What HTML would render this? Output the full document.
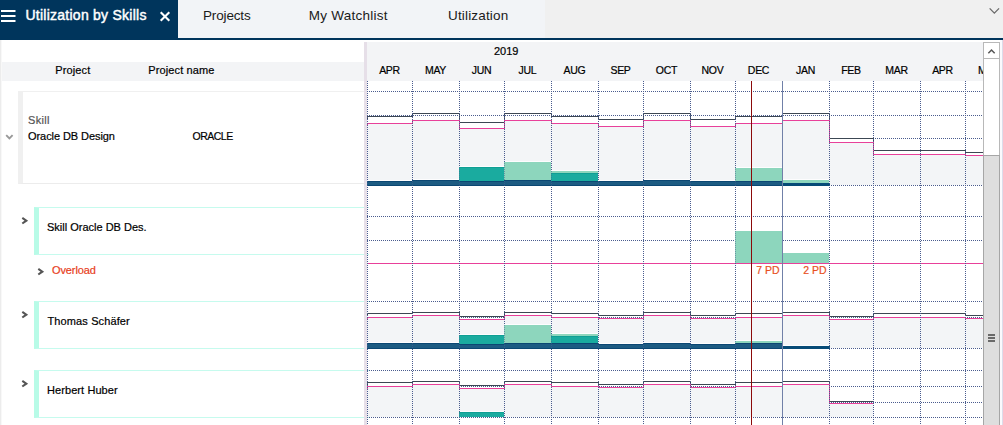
<!DOCTYPE html>
<html><head><meta charset="utf-8"><title>Utilization by Skills</title>
<style>
html,body{margin:0;padding:0}
body{width:1003px;height:425px;overflow:hidden;background:#fff;position:relative;font-family:"Liberation Sans",sans-serif;color:#111;}
.abs{position:absolute}
#tabbar{position:absolute;left:0;top:0;width:1003px;height:38px;background:#f0f0f0}
#tabbg{position:absolute;left:0;top:0;width:545px;height:38px;background:#f2f4f7}
#tabline{position:absolute;left:0;top:38px;width:1003px;height:2px;background:#00355c}
#active{position:absolute;left:0;top:0;width:178px;height:38px;background:#00355c}
.tab{position:absolute;top:0;height:38px;line-height:38px;font-size:14px;color:#1a1a1a;white-space:nowrap}
#atitle{letter-spacing:0.25px;-webkit-text-stroke:0.45px #fff;position:absolute;left:25.5px;top:0;height:38px;line-height:30px;font-size:14px;font-weight:normal;color:#fff;white-space:nowrap}
.t11{position:absolute;font-size:11px;line-height:13px;white-space:nowrap;color:#000;-webkit-text-stroke:0.2px}
.mon{position:absolute;top:64px;height:13px;line-height:13px;font-size:10.5px;letter-spacing:-0.28px;text-align:center;color:#000;white-space:nowrap;-webkit-text-stroke:0.2px}
.blk{position:absolute;left:34px;width:330px;height:46px;border-top:1px solid #c6fbee;border-bottom:1px solid #c6fbee;border-left:5px solid #b8fbe7;box-sizing:content-box}
</style></head><body>
<div id="tabbar"><div id="tabbg"></div>
<div id="active"></div>
<svg class="abs" style="left:0;top:0" width="20" height="38"><rect x="1" y="10" width="14.5" height="2" fill="#fff"/><rect x="1" y="15" width="14.5" height="2" fill="#fff"/><rect x="1" y="20" width="14.5" height="2" fill="#fff"/></svg>
<div id="atitle">Utilization by Skills</div>
<svg class="abs" style="left:158px;top:8px" width="16" height="16"><path d="M2.7 4.3L11.3 12.7M11.3 4.3L2.7 12.7" stroke="#fff" stroke-width="2.1" fill="none"/></svg>
<div class="tab" style="left:203px;line-height:31px;letter-spacing:-0.15px;font-size:13.5px">Projects</div>
<div class="tab" style="left:308.8px;line-height:31px;letter-spacing:0.25px;font-size:13.5px">My Watchlist</div>
<div class="tab" style="left:448px;line-height:31px;letter-spacing:0.17px;font-size:13.5px">Utilization</div>
<svg class="abs" style="left:986px;top:4px" width="16" height="16"><path d="M3.65 4.4L8.35 9.1L13.05 4.4" stroke="#6a6a6a" stroke-width="1.3" fill="none"/></svg>
</div>
<div id="tabline"></div>

<!-- left panel -->
<div class="abs" style="left:0;top:40px;width:1px;height:385px;background:#ececec"></div><div class="abs" style="left:1px;top:40px;width:1px;height:385px;background:#f8f8f8"></div>
<div class="abs" style="left:2px;top:62px;width:362px;height:19px;background:#f3f4f6"></div>
<div class="t11" style="left:55.3px;top:64px;letter-spacing:0.12px">Project</div>
<div class="t11" style="left:148.3px;top:64px;letter-spacing:0.12px">Project name</div>

<div class="abs" style="left:18px;top:91px;width:346px;height:92px;border-left:5px solid #f0f0f0;border-top:1px solid #f0f0f0;border-bottom:1px solid #ececec;box-sizing:border-box;height:93px"></div>
<div class="t11" style="left:28px;top:114px;color:#555;letter-spacing:0.3px">Skill</div>
<div class="t11" style="left:28px;top:130px;letter-spacing:-0.07px">Oracle DB Design</div>
<div class="t11" style="left:192.5px;top:130px;font-size:10.5px;letter-spacing:-0.5px">ORACLE</div>
<svg class="abs" style="left:4px;top:132px" width="12" height="12"><path d="M2.2 3.1L5.4 6.3L8.6 3.1" stroke="#999" stroke-width="1.9" fill="none"/></svg>

<div class="blk" style="top:207px"></div>
<div class="t11" style="left:47px;top:221px">Skill Oracle DB Des.</div>
<svg class="abs chev" style="left:20px;top:215px" width="10" height="12"><path d="M2.3 2.9L6.3 5.7L2.3 8.5" stroke="#555" stroke-width="2.1" fill="none"/></svg>

<svg class="abs chev" style="left:36.1px;top:266px" width="10" height="12"><path d="M2.3 2.9L6.3 5.7L2.3 8.5" stroke="#555" stroke-width="2.1" fill="none"/></svg>
<div class="t11" style="left:52px;top:264px;color:#e8401c;letter-spacing:-0.1px">Overload</div>

<div class="blk" style="top:301px"></div>
<div class="t11" style="left:47.5px;top:315px;letter-spacing:0.12px">Thomas Schäfer</div>
<svg class="abs chev" style="left:20px;top:309px" width="10" height="12"><path d="M2.3 2.9L6.3 5.7L2.3 8.5" stroke="#555" stroke-width="2.1" fill="none"/></svg>

<div class="blk" style="top:370px"></div>
<div class="t11" style="left:47px;top:384px;letter-spacing:0.08px">Herbert Huber</div>
<svg class="abs chev" style="left:20px;top:378px" width="10" height="12"><path d="M2.3 2.9L6.3 5.7L2.3 8.5" stroke="#555" stroke-width="2.1" fill="none"/></svg>

<!-- divider -->
<div class="abs" style="left:364px;top:42px;width:3px;height:383px;background:#e6dfe8"></div>

<!-- chart header -->
<div class="abs" style="left:367px;top:42px;width:616px;height:39px;background:#f3f4f6;overflow:hidden">
<div style="position:absolute;left:-367px;top:-42px;width:1100px;height:100px">
<div class="t11" style="left:494px;top:45px">2019</div>
<div class="mon" style="left:367px;width:45px">APR</div><div class="mon" style="left:412px;width:47px">MAY</div><div class="mon" style="left:459px;width:45px">JUN</div><div class="mon" style="left:504px;width:47px">JUL</div><div class="mon" style="left:551px;width:47px">AUG</div><div class="mon" style="left:598px;width:45px">SEP</div><div class="mon" style="left:643px;width:47px">OCT</div><div class="mon" style="left:690px;width:45px">NOV</div><div class="mon" style="left:735px;width:47px">DEC</div><div class="mon" style="left:782px;width:47px">JAN</div><div class="mon" style="left:829px;width:44px">FEB</div><div class="mon" style="left:873px;width:47px">MAR</div><div class="mon" style="left:920px;width:45px">APR</div><div class="mon" style="left:965px;width:47px">MAY</div>
</div></div>

<svg class="abs" style="left:0;top:0" width="1003" height="425" shape-rendering="crispEdges">
<line x1="367" y1="91.5" x2="982" y2="91.5" stroke="#4a5c8e" stroke-width="1" stroke-dasharray="1 1"/>
<line x1="367" y1="115.5" x2="982" y2="115.5" stroke="#4a5c8e" stroke-width="1" stroke-dasharray="1 1"/>
<line x1="367" y1="138.5" x2="982" y2="138.5" stroke="#4a5c8e" stroke-width="1" stroke-dasharray="1 1"/>
<line x1="367" y1="162.5" x2="982" y2="162.5" stroke="#4a5c8e" stroke-width="1" stroke-dasharray="1 1"/>
<line x1="367" y1="185.5" x2="982" y2="185.5" stroke="#4a5c8e" stroke-width="1" stroke-dasharray="1 1"/>
<line x1="367" y1="216.5" x2="982" y2="216.5" stroke="#4a5c8e" stroke-width="1" stroke-dasharray="1 1"/>
<line x1="367" y1="240.5" x2="982" y2="240.5" stroke="#4a5c8e" stroke-width="1" stroke-dasharray="1 1"/>
<line x1="367" y1="301.5" x2="982" y2="301.5" stroke="#4a5c8e" stroke-width="1" stroke-dasharray="1 1"/>
<line x1="367" y1="317.5" x2="982" y2="317.5" stroke="#4a5c8e" stroke-width="1" stroke-dasharray="1 1"/>
<line x1="367" y1="333.5" x2="982" y2="333.5" stroke="#4a5c8e" stroke-width="1" stroke-dasharray="1 1"/>
<line x1="367" y1="348.5" x2="982" y2="348.5" stroke="#4a5c8e" stroke-width="1" stroke-dasharray="1 1"/>
<line x1="367" y1="370.5" x2="982" y2="370.5" stroke="#4a5c8e" stroke-width="1" stroke-dasharray="1 1"/>
<line x1="367" y1="386.5" x2="982" y2="386.5" stroke="#4a5c8e" stroke-width="1" stroke-dasharray="1 1"/>
<line x1="367" y1="402.5" x2="982" y2="402.5" stroke="#4a5c8e" stroke-width="1" stroke-dasharray="1 1"/>
<line x1="367" y1="417.5" x2="982" y2="417.5" stroke="#4a5c8e" stroke-width="1" stroke-dasharray="1 1"/>
<rect x="367" y="124" width="45" height="61" fill="#f3f5f7" />
<rect x="412" y="121" width="47" height="64" fill="#f3f5f7" />
<rect x="459" y="129" width="45" height="56" fill="#f3f5f7" />
<rect x="504" y="121" width="47" height="64" fill="#f3f5f7" />
<rect x="551" y="124" width="47" height="61" fill="#f3f5f7" />
<rect x="598" y="127" width="45" height="58" fill="#f3f5f7" />
<rect x="643" y="121" width="47" height="64" fill="#f3f5f7" />
<rect x="690" y="127" width="45" height="58" fill="#f3f5f7" />
<rect x="735" y="124" width="47" height="61" fill="#f3f5f7" />
<rect x="782" y="121" width="47" height="64" fill="#f3f5f7" />
<rect x="829" y="143" width="44" height="42" fill="#f3f5f7" />
<rect x="873" y="155" width="47" height="30" fill="#f3f5f7" />
<rect x="920" y="155" width="45" height="30" fill="#f3f5f7" />
<rect x="965" y="156" width="18" height="29" fill="#f3f5f7" />
<rect x="367" y="318" width="45" height="30" fill="#f3f5f7" />
<rect x="412" y="316" width="47" height="32" fill="#f3f5f7" />
<rect x="459" y="320" width="45" height="28" fill="#f3f5f7" />
<rect x="504" y="316" width="47" height="32" fill="#f3f5f7" />
<rect x="551" y="318" width="47" height="30" fill="#f3f5f7" />
<rect x="598" y="319" width="45" height="29" fill="#f3f5f7" />
<rect x="643" y="316" width="47" height="32" fill="#f3f5f7" />
<rect x="690" y="319" width="45" height="29" fill="#f3f5f7" />
<rect x="735" y="318" width="47" height="30" fill="#f3f5f7" />
<rect x="782" y="316" width="47" height="32" fill="#f3f5f7" />
<rect x="829" y="320" width="44" height="28" fill="#f3f5f7" />
<rect x="873" y="318" width="47" height="30" fill="#f3f5f7" />
<rect x="920" y="318" width="45" height="30" fill="#f3f5f7" />
<rect x="965" y="319" width="18" height="29" fill="#f3f5f7" />
<rect x="367" y="387" width="45" height="30" fill="#f3f5f7" />
<rect x="412" y="385" width="47" height="32" fill="#f3f5f7" />
<rect x="459" y="389" width="45" height="28" fill="#f3f5f7" />
<rect x="504" y="385" width="47" height="32" fill="#f3f5f7" />
<rect x="551" y="387" width="47" height="30" fill="#f3f5f7" />
<rect x="598" y="388" width="45" height="29" fill="#f3f5f7" />
<rect x="643" y="385" width="47" height="32" fill="#f3f5f7" />
<rect x="690" y="388" width="45" height="29" fill="#f3f5f7" />
<rect x="735" y="387" width="47" height="30" fill="#f3f5f7" />
<rect x="782" y="385" width="47" height="32" fill="#f3f5f7" />
<rect x="829" y="404" width="44" height="13" fill="#f3f5f7" />
<rect x="367" y="181" width="45" height="1" fill="#0b4873" />
<rect x="367" y="182" width="45" height="3" fill="#1c5b82" />
<rect x="367" y="185" width="45" height="1" fill="#0b4873" />
<rect x="367" y="180" width="45" height="1" fill="#fdfdfe" />
<rect x="412" y="180" width="47" height="1" fill="#0b4873" />
<rect x="412" y="181" width="47" height="4" fill="#1c5b82" />
<rect x="412" y="185" width="47" height="1" fill="#0b4873" />
<rect x="412" y="179" width="47" height="1" fill="#fdfdfe" />
<rect x="459" y="181" width="45" height="1" fill="#0b4873" />
<rect x="459" y="182" width="45" height="3" fill="#1c5b82" />
<rect x="459" y="185" width="45" height="1" fill="#0b4873" />
<rect x="459" y="167" width="45" height="1" fill="#0f9f94" />
<rect x="459" y="168" width="45" height="13" fill="#1aab9f" />
<rect x="459" y="166" width="45" height="1" fill="#fdfdfe" />
<rect x="504" y="180" width="47" height="1" fill="#0b4873" />
<rect x="504" y="181" width="47" height="4" fill="#1c5b82" />
<rect x="504" y="185" width="47" height="1" fill="#0b4873" />
<rect x="504" y="162" width="47" height="18" fill="#8dd6bd" />
<rect x="504" y="161" width="47" height="1" fill="#fdfdfe" />
<rect x="551" y="181" width="47" height="1" fill="#0b4873" />
<rect x="551" y="182" width="47" height="3" fill="#1c5b82" />
<rect x="551" y="185" width="47" height="1" fill="#0b4873" />
<rect x="551" y="173" width="47" height="1" fill="#0f9f94" />
<rect x="551" y="174" width="47" height="7" fill="#1aab9f" />
<rect x="551" y="171" width="47" height="2" fill="#8dd6bd" />
<rect x="551" y="170" width="47" height="1" fill="#fdfdfe" />
<rect x="598" y="181" width="45" height="1" fill="#0b4873" />
<rect x="598" y="182" width="45" height="3" fill="#1c5b82" />
<rect x="598" y="185" width="45" height="1" fill="#0b4873" />
<rect x="598" y="180" width="45" height="1" fill="#fdfdfe" />
<rect x="643" y="180" width="47" height="1" fill="#0b4873" />
<rect x="643" y="181" width="47" height="4" fill="#1c5b82" />
<rect x="643" y="185" width="47" height="1" fill="#0b4873" />
<rect x="643" y="179" width="47" height="1" fill="#fdfdfe" />
<rect x="690" y="181" width="45" height="1" fill="#0b4873" />
<rect x="690" y="182" width="45" height="3" fill="#1c5b82" />
<rect x="690" y="185" width="45" height="1" fill="#0b4873" />
<rect x="690" y="180" width="45" height="1" fill="#fdfdfe" />
<rect x="735" y="181" width="47" height="1" fill="#0b4873" />
<rect x="735" y="182" width="47" height="3" fill="#1c5b82" />
<rect x="735" y="185" width="47" height="1" fill="#0b4873" />
<rect x="735" y="168" width="47" height="13" fill="#8dd6bd" />
<rect x="735" y="167" width="47" height="1" fill="#fdfdfe" />
<rect x="782" y="179" width="47" height="1" fill="#fdfdfe" />
<rect x="782" y="180" width="47" height="3" fill="#8dd6bd" />
<rect x="735" y="231" width="47" height="32" fill="#8dd6bd" />
<rect x="782" y="253" width="47" height="10" fill="#8dd6bd" />
<rect x="367" y="343" width="45" height="1" fill="#0b4873" />
<rect x="367" y="344" width="45" height="4" fill="#1c5b82" />
<rect x="367" y="348" width="45" height="1" fill="#0b4873" />
<rect x="367" y="342" width="45" height="1" fill="#fdfdfe" />
<rect x="412" y="343" width="47" height="1" fill="#0b4873" />
<rect x="412" y="344" width="47" height="4" fill="#1c5b82" />
<rect x="412" y="348" width="47" height="1" fill="#0b4873" />
<rect x="412" y="342" width="47" height="1" fill="#fdfdfe" />
<rect x="459" y="344" width="45" height="1" fill="#0b4873" />
<rect x="459" y="345" width="45" height="3" fill="#1c5b82" />
<rect x="459" y="348" width="45" height="1" fill="#0b4873" />
<rect x="459" y="335" width="45" height="1" fill="#0f9f94" />
<rect x="459" y="336" width="45" height="8" fill="#1aab9f" />
<rect x="459" y="334" width="45" height="1" fill="#fdfdfe" />
<rect x="504" y="343" width="47" height="1" fill="#0b4873" />
<rect x="504" y="344" width="47" height="4" fill="#1c5b82" />
<rect x="504" y="348" width="47" height="1" fill="#0b4873" />
<rect x="504" y="325" width="47" height="18" fill="#8dd6bd" />
<rect x="504" y="324" width="47" height="1" fill="#fdfdfe" />
<rect x="551" y="343" width="47" height="1" fill="#0b4873" />
<rect x="551" y="344" width="47" height="4" fill="#1c5b82" />
<rect x="551" y="348" width="47" height="1" fill="#0b4873" />
<rect x="551" y="336" width="47" height="1" fill="#0f9f94" />
<rect x="551" y="337" width="47" height="6" fill="#1aab9f" />
<rect x="551" y="334" width="47" height="2" fill="#8dd6bd" />
<rect x="551" y="333" width="47" height="1" fill="#fdfdfe" />
<rect x="598" y="344" width="45" height="1" fill="#0b4873" />
<rect x="598" y="345" width="45" height="3" fill="#1c5b82" />
<rect x="598" y="348" width="45" height="1" fill="#0b4873" />
<rect x="598" y="343" width="45" height="1" fill="#fdfdfe" />
<rect x="643" y="343" width="47" height="1" fill="#0b4873" />
<rect x="643" y="344" width="47" height="4" fill="#1c5b82" />
<rect x="643" y="348" width="47" height="1" fill="#0b4873" />
<rect x="643" y="342" width="47" height="1" fill="#fdfdfe" />
<rect x="690" y="344" width="45" height="1" fill="#0b4873" />
<rect x="690" y="345" width="45" height="3" fill="#1c5b82" />
<rect x="690" y="348" width="45" height="1" fill="#0b4873" />
<rect x="690" y="343" width="45" height="1" fill="#fdfdfe" />
<rect x="735" y="343" width="47" height="1" fill="#0b4873" />
<rect x="735" y="344" width="47" height="4" fill="#1c5b82" />
<rect x="735" y="348" width="47" height="1" fill="#0b4873" />
<rect x="735" y="341" width="47" height="2" fill="#8dd6bd" />
<rect x="735" y="340" width="47" height="1" fill="#fdfdfe" />
<rect x="782" y="345" width="47" height="1" fill="#fdfdfe" />
<rect x="459" y="412" width="45" height="1" fill="#0f9f94" />
<rect x="459" y="413" width="45" height="4" fill="#1aab9f" />
<rect x="459" y="411" width="45" height="1" fill="#fdfdfe" />
<path d="M782 183H829a1.5 1.5 0 0 1 0 3H782Z" fill="#064b77"/>
<path d="M782 346H829a1.5 1.5 0 0 1 0 3H782Z" fill="#064b77"/>
<line x1="367" y1="263.5" x2="983" y2="263.5" stroke="#e8409a" stroke-width="1"/>
<path d="M367.5 119.0V116.5H412.5V113.5H459.5V122.5H504.5V113.5H551.5V116.5H598.5V119.5H643.5V113.5H690.5V119.5H735.5V116.5H782.5V113.5H829.5V138.5H873.5V150.5H920.5V150.5H965.5V152.5H983" fill="none" stroke="#3c4753" stroke-width="1"/>
<path d="M367.5 126.0V123.5H412.5V120.5H459.5V128.5H504.5V120.5H551.5V123.5H598.5V126.5H643.5V120.5H690.5V126.5H735.5V123.5H782.5V120.5H829.5V142.5H873.5V154.5H920.5V154.5H965.5V155.5H983" fill="none" stroke="#e8409a" stroke-width="1"/>
<path d="M367.5 316.0V313.5H412.5V312.5H459.5V316.5H504.5V312.5H551.5V313.5H598.5V315.5H643.5V312.5H690.5V315.5H735.5V313.5H782.5V312.5H829.5V316.5H873.5V313.5H920.5V313.5H965.5V315.5H983" fill="none" stroke="#3c4753" stroke-width="1"/>
<path d="M367.5 320.0V317.5H412.5V315.5H459.5V319.5H504.5V315.5H551.5V317.5H598.5V318.5H643.5V315.5H690.5V318.5H735.5V317.5H782.5V315.5H829.5V319.5H873.5V317.5H920.5V317.5H965.5V318.5H983" fill="none" stroke="#e8409a" stroke-width="1"/>
<path d="M367.5 385.0V382.5H412.5V381.5H459.5V385.5H504.5V381.5H551.5V382.5H598.5V384.5H643.5V381.5H690.5V384.5H735.5V382.5H782.5V381.5H829.5V401.5H873.5" fill="none" stroke="#3c4753" stroke-width="1"/>
<path d="M367.5 389.0V386.5H412.5V384.5H459.5V388.5H504.5V384.5H551.5V386.5H598.5V387.5H643.5V384.5H690.5V387.5H735.5V386.5H782.5V384.5H829.5V403.5H873.5" fill="none" stroke="#e8409a" stroke-width="1"/>
<line x1="367.5" y1="81" x2="367.5" y2="425" stroke="#4a5c8e" stroke-width="1" stroke-dasharray="1 1"/>
<line x1="412.5" y1="81" x2="412.5" y2="425" stroke="#4a5c8e" stroke-width="1" stroke-dasharray="1 1"/>
<line x1="459.5" y1="81" x2="459.5" y2="425" stroke="#4a5c8e" stroke-width="1" stroke-dasharray="1 1"/>
<line x1="504.5" y1="81" x2="504.5" y2="425" stroke="#4a5c8e" stroke-width="1" stroke-dasharray="1 1"/>
<line x1="551.5" y1="81" x2="551.5" y2="425" stroke="#4a5c8e" stroke-width="1" stroke-dasharray="1 1"/>
<line x1="598.5" y1="81" x2="598.5" y2="425" stroke="#4a5c8e" stroke-width="1" stroke-dasharray="1 1"/>
<line x1="643.5" y1="81" x2="643.5" y2="425" stroke="#4a5c8e" stroke-width="1" stroke-dasharray="1 1"/>
<line x1="690.5" y1="81" x2="690.5" y2="425" stroke="#4a5c8e" stroke-width="1" stroke-dasharray="1 1"/>
<line x1="735.5" y1="81" x2="735.5" y2="425" stroke="#4a5c8e" stroke-width="1" stroke-dasharray="1 1"/>
<line x1="829.5" y1="81" x2="829.5" y2="425" stroke="#4a5c8e" stroke-width="1" stroke-dasharray="1 1"/>
<line x1="873.5" y1="81" x2="873.5" y2="425" stroke="#4a5c8e" stroke-width="1" stroke-dasharray="1 1"/>
<line x1="920.5" y1="81" x2="920.5" y2="425" stroke="#4a5c8e" stroke-width="1" stroke-dasharray="1 1"/>
<line x1="965.5" y1="81" x2="965.5" y2="425" stroke="#4a5c8e" stroke-width="1" stroke-dasharray="1 1"/>
<rect x="367" y="181" width="45" height="1" fill="#0b4873" fill-opacity="0.45"/>
<rect x="367" y="182" width="45" height="3" fill="#1c5b82" fill-opacity="0.45"/>
<rect x="367" y="185" width="45" height="1" fill="#0b4873" fill-opacity="0.45"/>
<rect x="412" y="180" width="47" height="1" fill="#0b4873" fill-opacity="0.45"/>
<rect x="412" y="181" width="47" height="4" fill="#1c5b82" fill-opacity="0.45"/>
<rect x="412" y="185" width="47" height="1" fill="#0b4873" fill-opacity="0.45"/>
<rect x="459" y="181" width="45" height="1" fill="#0b4873" fill-opacity="0.45"/>
<rect x="459" y="182" width="45" height="3" fill="#1c5b82" fill-opacity="0.45"/>
<rect x="459" y="185" width="45" height="1" fill="#0b4873" fill-opacity="0.45"/>
<rect x="459" y="167" width="45" height="1" fill="#0f9f94" fill-opacity="0.45"/>
<rect x="459" y="168" width="45" height="13" fill="#1aab9f" fill-opacity="0.45"/>
<rect x="504" y="180" width="47" height="1" fill="#0b4873" fill-opacity="0.45"/>
<rect x="504" y="181" width="47" height="4" fill="#1c5b82" fill-opacity="0.45"/>
<rect x="504" y="185" width="47" height="1" fill="#0b4873" fill-opacity="0.45"/>
<rect x="504" y="162" width="47" height="18" fill="#8dd6bd" fill-opacity="0.45"/>
<rect x="551" y="181" width="47" height="1" fill="#0b4873" fill-opacity="0.45"/>
<rect x="551" y="182" width="47" height="3" fill="#1c5b82" fill-opacity="0.45"/>
<rect x="551" y="185" width="47" height="1" fill="#0b4873" fill-opacity="0.45"/>
<rect x="551" y="173" width="47" height="1" fill="#0f9f94" fill-opacity="0.45"/>
<rect x="551" y="174" width="47" height="7" fill="#1aab9f" fill-opacity="0.45"/>
<rect x="551" y="171" width="47" height="2" fill="#8dd6bd" fill-opacity="0.45"/>
<rect x="598" y="181" width="45" height="1" fill="#0b4873" fill-opacity="0.45"/>
<rect x="598" y="182" width="45" height="3" fill="#1c5b82" fill-opacity="0.45"/>
<rect x="598" y="185" width="45" height="1" fill="#0b4873" fill-opacity="0.45"/>
<rect x="643" y="180" width="47" height="1" fill="#0b4873" fill-opacity="0.45"/>
<rect x="643" y="181" width="47" height="4" fill="#1c5b82" fill-opacity="0.45"/>
<rect x="643" y="185" width="47" height="1" fill="#0b4873" fill-opacity="0.45"/>
<rect x="690" y="181" width="45" height="1" fill="#0b4873" fill-opacity="0.45"/>
<rect x="690" y="182" width="45" height="3" fill="#1c5b82" fill-opacity="0.45"/>
<rect x="690" y="185" width="45" height="1" fill="#0b4873" fill-opacity="0.45"/>
<rect x="735" y="181" width="47" height="1" fill="#0b4873" fill-opacity="0.45"/>
<rect x="735" y="182" width="47" height="3" fill="#1c5b82" fill-opacity="0.45"/>
<rect x="735" y="185" width="47" height="1" fill="#0b4873" fill-opacity="0.45"/>
<rect x="735" y="168" width="47" height="13" fill="#8dd6bd" fill-opacity="0.45"/>
<rect x="782" y="180" width="47" height="3" fill="#8dd6bd" fill-opacity="0.45"/>
<rect x="735" y="231" width="47" height="32" fill="#8dd6bd" fill-opacity="0.45"/>
<rect x="782" y="253" width="47" height="10" fill="#8dd6bd" fill-opacity="0.45"/>
<rect x="367" y="343" width="45" height="1" fill="#0b4873" fill-opacity="0.45"/>
<rect x="367" y="344" width="45" height="4" fill="#1c5b82" fill-opacity="0.45"/>
<rect x="367" y="348" width="45" height="1" fill="#0b4873" fill-opacity="0.45"/>
<rect x="412" y="343" width="47" height="1" fill="#0b4873" fill-opacity="0.45"/>
<rect x="412" y="344" width="47" height="4" fill="#1c5b82" fill-opacity="0.45"/>
<rect x="412" y="348" width="47" height="1" fill="#0b4873" fill-opacity="0.45"/>
<rect x="459" y="344" width="45" height="1" fill="#0b4873" fill-opacity="0.45"/>
<rect x="459" y="345" width="45" height="3" fill="#1c5b82" fill-opacity="0.45"/>
<rect x="459" y="348" width="45" height="1" fill="#0b4873" fill-opacity="0.45"/>
<rect x="459" y="335" width="45" height="1" fill="#0f9f94" fill-opacity="0.45"/>
<rect x="459" y="336" width="45" height="8" fill="#1aab9f" fill-opacity="0.45"/>
<rect x="504" y="343" width="47" height="1" fill="#0b4873" fill-opacity="0.45"/>
<rect x="504" y="344" width="47" height="4" fill="#1c5b82" fill-opacity="0.45"/>
<rect x="504" y="348" width="47" height="1" fill="#0b4873" fill-opacity="0.45"/>
<rect x="504" y="325" width="47" height="18" fill="#8dd6bd" fill-opacity="0.45"/>
<rect x="551" y="343" width="47" height="1" fill="#0b4873" fill-opacity="0.45"/>
<rect x="551" y="344" width="47" height="4" fill="#1c5b82" fill-opacity="0.45"/>
<rect x="551" y="348" width="47" height="1" fill="#0b4873" fill-opacity="0.45"/>
<rect x="551" y="336" width="47" height="1" fill="#0f9f94" fill-opacity="0.45"/>
<rect x="551" y="337" width="47" height="6" fill="#1aab9f" fill-opacity="0.45"/>
<rect x="551" y="334" width="47" height="2" fill="#8dd6bd" fill-opacity="0.45"/>
<rect x="598" y="344" width="45" height="1" fill="#0b4873" fill-opacity="0.45"/>
<rect x="598" y="345" width="45" height="3" fill="#1c5b82" fill-opacity="0.45"/>
<rect x="598" y="348" width="45" height="1" fill="#0b4873" fill-opacity="0.45"/>
<rect x="643" y="343" width="47" height="1" fill="#0b4873" fill-opacity="0.45"/>
<rect x="643" y="344" width="47" height="4" fill="#1c5b82" fill-opacity="0.45"/>
<rect x="643" y="348" width="47" height="1" fill="#0b4873" fill-opacity="0.45"/>
<rect x="690" y="344" width="45" height="1" fill="#0b4873" fill-opacity="0.45"/>
<rect x="690" y="345" width="45" height="3" fill="#1c5b82" fill-opacity="0.45"/>
<rect x="690" y="348" width="45" height="1" fill="#0b4873" fill-opacity="0.45"/>
<rect x="735" y="343" width="47" height="1" fill="#0b4873" fill-opacity="0.45"/>
<rect x="735" y="344" width="47" height="4" fill="#1c5b82" fill-opacity="0.45"/>
<rect x="735" y="348" width="47" height="1" fill="#0b4873" fill-opacity="0.45"/>
<rect x="735" y="341" width="47" height="2" fill="#8dd6bd" fill-opacity="0.45"/>
<rect x="459" y="412" width="45" height="1" fill="#0f9f94" fill-opacity="0.45"/>
<rect x="459" y="413" width="45" height="4" fill="#1aab9f" fill-opacity="0.45"/>
<path d="M782 183H829a1.5 1.5 0 0 1 0 3H782Z" fill="#064b77" fill-opacity="0.45"/>
<path d="M782 346H829a1.5 1.5 0 0 1 0 3H782Z" fill="#064b77" fill-opacity="0.45"/>
<line x1="782.5" y1="81" x2="782.5" y2="425" stroke="#7080a8" stroke-width="1"/>
<line x1="751.5" y1="81" x2="751.5" y2="425" stroke="#8b0a0a" stroke-width="1"/>
</svg>
<div class="t11" style="left:735px;width:44.5px;text-align:right;top:264px;color:#e8501c;font-size:10.5px">7 PD</div>
<div class="t11" style="left:782px;width:44.5px;text-align:right;top:264px;color:#e8501c;font-size:10.5px">2 PD</div>

<!-- scrollbar -->
<div class="abs" style="left:983px;top:42px;width:17px;height:383px;background:#fff;border-left:1px solid #b8b8b8;border-right:1px solid #b8b8b8;box-sizing:border-box"></div>
<div class="abs" style="left:983px;top:42px;width:17px;height:17px;border:1px solid #b8b8b8;box-sizing:border-box;background:#fff"></div>
<svg class="abs" style="left:984px;top:43px" width="15" height="15"><path d="M4.33 10.23L7.5 7.06L10.67 10.23" stroke="#555" stroke-width="1.5" fill="none"/></svg>
<div class="abs" style="left:983px;top:155px;width:17px;height:270px;background:#dedede;border:1px solid #a6a6a6;border-bottom:none;box-sizing:border-box"></div>
<div class="abs" style="left:988px;top:334px;width:7px;height:2px;background:#6a6a6a"></div>
<div class="abs" style="left:988px;top:337px;width:7px;height:2px;background:#6a6a6a"></div>
<div class="abs" style="left:988px;top:340px;width:7px;height:2px;background:#6a6a6a"></div>
<div class="abs" style="left:1000px;top:40px;width:2px;height:385px;background:#fafafd"></div><div class="abs" style="left:1002px;top:40px;width:1px;height:385px;background:#dcdcea"></div>
</body></html>
